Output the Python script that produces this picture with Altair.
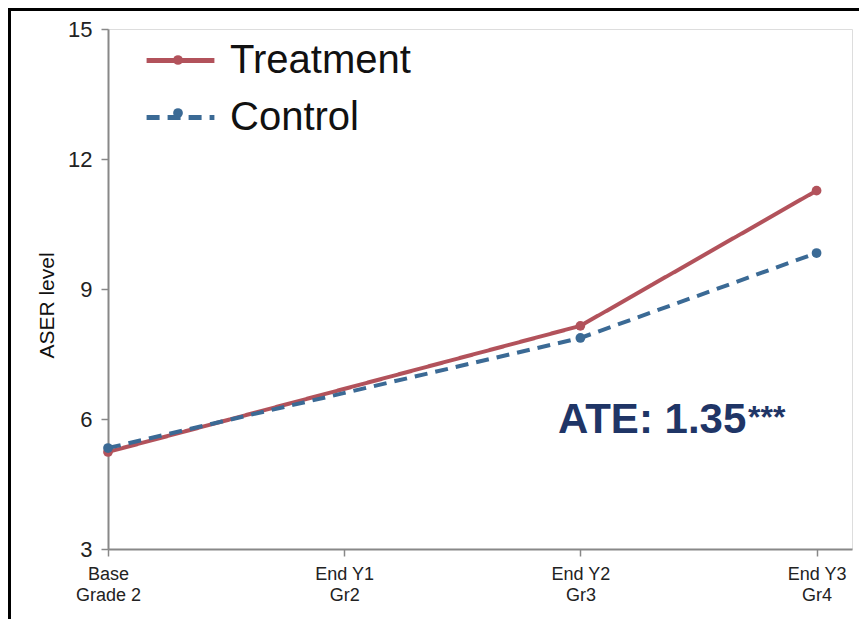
import json
import altair as alt
import pandas as pd

# ---- data ----
periods = ["Base", "End Y1", "End Y2", "End Y3"]
period_line2 = ["Grade 2", "Gr2", "Gr3", "Gr4"]
period_index = [0, 1, 2, 3]
series_names = ["Treatment", "Control"]
treatment_x = [0, 2, 3]
treatment_y = [5.24, 8.15, 11.27]
control_x = [0, 2, 3]
control_y = [5.33, 7.87, 9.83]
y_ticks = [3, 6, 9, 12, 15]
ate_label = "ATE: 1.35"
ate_stars = "***"

colors = ["#b2525b", "#3b6a95"]

df = pd.concat([
    pd.DataFrame({"x": treatment_x, "y": treatment_y, "series": "Treatment"}),
    pd.DataFrame({"x": control_x, "y": control_y, "series": "Control"}),
], ignore_index=True)

label_map = json.dumps([[a, b] for a, b in zip(periods, period_line2)])

W, H = 744, 520
PL, PT, PR, PB = 100, 21, 7, 70

x_enc = alt.X(
    "x:Q",
    scale=alt.Scale(domain=[0, 3.15], nice=False, zero=False),
    axis=alt.Axis(
        values=period_index, title=None, grid=False,
        labelExpr=f"{label_map}[datum.value]",
        labelFontSize=18, labelLineHeight=21, labelColor="#222222",
        labelFont="Liberation Sans", labelPadding=9,
        tickSize=7, tickColor="#888888", tickWidth=1.5,
        domainColor="#888888", domainWidth=2, labelFlush=False,
    ),
)
y_enc = alt.Y(
    "y:Q",
    scale=alt.Scale(domain=[3, 15], nice=False, zero=False),
    axis=alt.Axis(
        values=y_ticks, title="ASER level", grid=False,
        titleFontSize=21, titleFontWeight="normal", titleColor="#111111",
        titleFont="Liberation Sans", titlePadding=10, titleY=276,
        labelFontSize=22, labelColor="#222222", labelFont="Liberation Sans",
        labelPadding=9, tickSize=7, tickColor="#888888", tickWidth=1.5,
        domainColor="#888888", domainWidth=2,
    ),
)

legend_opts = dict(
    title=None, orient="none", legendX=36, legendY=-5,
    labelFontSize=40, labelFont="Liberation Sans", labelColor="#111111",
    labelLimit=0, symbolType="stroke", symbolSize=4600, symbolStrokeWidth=5,
    labelOffset=13, rowPadding=-8, padding=0,
)
color_enc = alt.Color(
    "series:N",
    scale=alt.Scale(domain=series_names, range=colors),
    legend=alt.Legend(**legend_opts),
)
dash_enc = alt.StrokeDash(
    "series:N",
    scale=alt.Scale(domain=series_names, range=[[1, 0], [13, 8]]),
    legend=alt.Legend(**legend_opts),
)

base = alt.Chart(df).encode(x=x_enc, y=y_enc, color=color_enc)
lines = base.mark_line(strokeWidth=4).encode(strokeDash=dash_enc)
points = base.mark_point(filled=True, size=95, opacity=1)

blank = alt.Chart(alt.Data(values=[{"t": ate_label, "s": ate_stars}]))
ate = blank.mark_text(
    align="left", baseline="alphabetic", fontSize=42, fontWeight="bold",
    font="Liberation Sans", color="#1f3566",
).encode(x=alt.value(450), y=alt.value(404), text="t:N")
stars = blank.mark_text(
    align="left", baseline="alphabetic", fontSize=32, fontWeight="bold",
    font="Liberation Sans", color="#1f3566",
).encode(x=alt.value(640), y=alt.value(399), text="s:N")

# dot markers on the legend symbols
legend_dot_t = blank.mark_point(filled=True, size=95, opacity=1, color=colors[0]).encode(
    x=alt.value(70), y=alt.value(31))
legend_dot_c = blank.mark_point(filled=True, size=95, opacity=1, color=colors[1]).encode(
    x=alt.value(70), y=alt.value(84))

frame_left = blank.mark_rule(color="black", strokeWidth=3).encode(
    x=alt.value(-98.5), y=alt.value(-PT), y2=alt.value(H + PB + 10))
frame_top = blank.mark_rule(color="black", strokeWidth=3).encode(
    y=alt.value(-PT + 1.5), x=alt.value(-PL), x2=alt.value(W + PR + 10))

chart = alt.layer(lines, points, ate, stars, legend_dot_t, legend_dot_c,
                  frame_left, frame_top).properties(
    width=W, height=H,
    autosize=alt.AutoSizeParams(type="none"),
    padding={"left": PL, "top": PT, "right": PR, "bottom": PB},
).configure_view(stroke=None).configure(background="white")

chart.save("out.html", embed_options={"renderer": "svg", "actions": False})
